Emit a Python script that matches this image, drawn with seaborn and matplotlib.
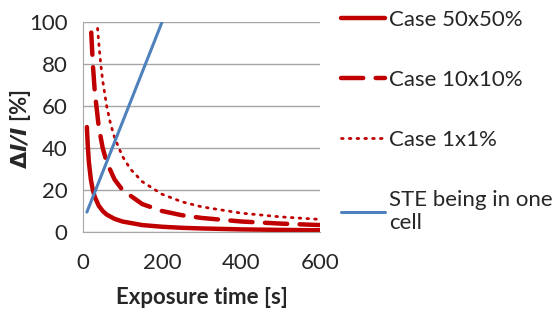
import matplotlib
matplotlib.use("Agg")
import matplotlib.pyplot as plt
import numpy as np
import pandas as pd
import seaborn as sns

# valores
t_50 = [10, 12, 15, 20, 25, 30, 40, 50, 60, 80, 100, 150, 200, 250, 300, 400, 500, 600]
y_50 = [50, 41.7, 33.3, 25, 20, 16.7, 12.5, 10, 8.3, 6.25, 5, 3.3, 2.5, 2, 1.7, 1.25, 1, 0.83]

t_10 = [21, 25, 30, 40, 50, 60, 80, 100, 150, 200, 250, 300, 400, 500, 600]
y_10 = [95, 80, 66.7, 50, 40, 33.3, 25, 20, 13.3, 10, 8, 6.7, 5, 4, 3.3]

t_1 = [37, 40, 45, 50, 60, 70, 80, 100, 120, 150, 200, 250, 300, 400, 500, 600]
y_1 = [97, 90, 80, 72, 60, 51.4, 45, 36, 30, 24, 18, 14.4, 12, 9, 7.2, 6]

t_ste = [10, 200]
y_ste = [9.5, 100]

etiquetas = ["Case 50x50%", "Case 10x10%", "Case 1x1%", "STE being in one\ncell"]

sns.set_style("white")
plt.rcParams["font.family"] = ["Lato", "DejaVu Sans"]

fig = plt.figure(figsize=(5.53, 3.2), dpi=100)
ax = fig.add_axes([0.150, 0.275, 0.429, 0.656])

rojo = "#C00000"
azul = "#4F81BD"

sns.lineplot(x=t_50, y=y_50, ax=ax, color=rojo, lw=3.2, label=etiquetas[0])
sns.lineplot(x=t_10, y=y_10, ax=ax, color=rojo, lw=3.2, label=etiquetas[1],
             dashes=False)
ax.lines[-1].set_dashes((5, 2.8))
ax.lines[-1].set_dash_capstyle("round")
sns.lineplot(x=t_1, y=y_1, ax=ax, color=rojo, lw=2.0, label=etiquetas[2])
ax.lines[-1].set_dashes((0.6, 2.2))
ax.lines[-1].set_dash_capstyle("round")
sns.lineplot(x=t_ste, y=y_ste, ax=ax, color=azul, lw=2.2, label=etiquetas[3])

ax.set_xlim(0, 600)
ax.set_ylim(0, 100)
ax.set_xticks([0, 200, 400, 600])
ax.set_yticks([0, 20, 40, 60, 80, 100])
ax.yaxis.grid(True, color="#A6A6A6", lw=1)
ax.set_axisbelow(True)
for s in ["top", "right"]:
    ax.spines[s].set_visible(False)
for s in ["left", "bottom"]:
    ax.spines[s].set_color("#A6A6A6")
ax.tick_params(axis="both", length=5, color="#A6A6A6", direction="out",
               labelsize=16, pad=6)
ax.tick_params(axis="x", pad=10)

ax.set_xlabel("Exposure time [s]", fontsize=16, fontweight="bold", labelpad=10)
ax.set_ylabel(r"$\mathbf{\Delta}\mathbfit{I/I}$ [%]", fontsize=16,
              fontweight="bold")
ax.yaxis.set_label_coords(-0.211, 0.49)

ax.legend(loc="upper left", bbox_to_anchor=(1.05, 1.10), frameon=False,
          fontsize=16, handlelength=2.0, handletextpad=0.15, labelspacing=1.8,
          borderaxespad=0)

fig.savefig("out.png", dpi=100)
